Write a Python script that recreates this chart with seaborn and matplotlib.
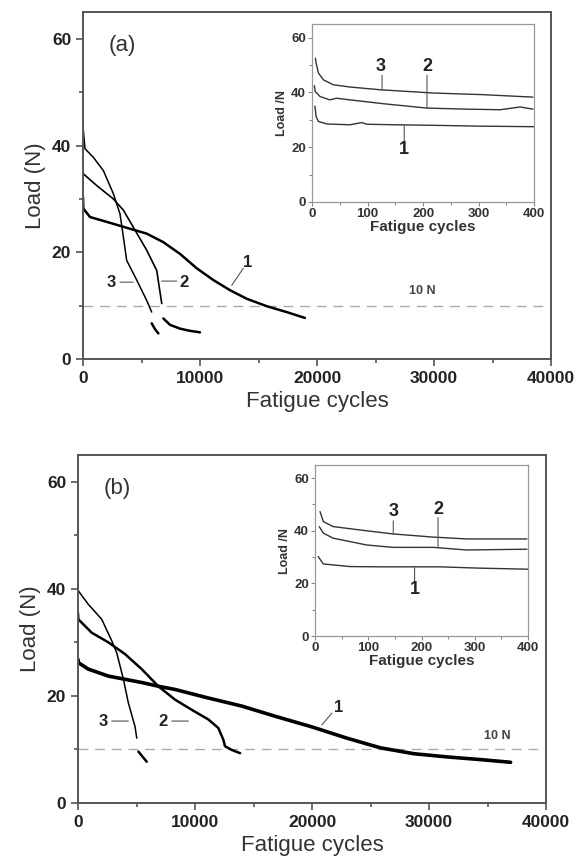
import matplotlib
matplotlib.use("Agg")
import matplotlib.pyplot as plt
import seaborn as sns
from matplotlib.ticker import MultipleLocator

sns.set_style("ticks")
plt.rcParams["font.family"] = ["Liberation Sans", "DejaVu Sans"]

# ---- panel (a), main curves (cycles, load in N) ----
a1_x = [0, 30, 600, 2025, 4020, 5440, 6860, 8290, 9720, 11140, 12560, 13990,
        15700, 17400, 18970]
a1_y = [30.3, 28.2, 26.6, 25.7, 24.4, 23.5, 21.9, 19.7, 17.0, 14.8, 12.9, 11.3,
        9.9, 8.8, 7.7]
a2_x = [0, 30, 1170, 2590, 3450, 4300, 5440, 6300, 6730]
a2_y = [35.5, 34.7, 32.5, 30.0, 27.9, 24.7, 20.4, 16.6, 10.4]
a2b_x = [6870, 7440, 8290, 9100, 10000]
a2b_y = [7.6, 6.4, 5.7, 5.3, 5.0]
a3_x = [0, 30, 170, 880, 1740, 2590, 3160, 3450, 3730, 4590, 5440, 5870]
a3_y = [44.0, 42.8, 39.4, 37.8, 35.3, 31.0, 27.2, 22.9, 18.5, 14.8, 11.0, 8.8]
a3b_x = [5870, 6150, 6440]
a3b_y = [6.7, 5.6, 4.8]

# ---- panel (a), inset (first 400 cycles) ----
ia1_x = [5, 7.2, 11.4, 26.5, 68, 89.5, 98.5, 150, 220, 300, 400]
ia1_y = [35.0, 31.2, 29.4, 28.5, 28.2, 29.0, 28.4, 28.2, 28.0, 27.7, 27.5]
ia2_x = [4, 5.4, 14.4, 32, 44, 68, 128, 207, 279, 339, 375, 398]
ia2_y = [42.5, 40.4, 38.5, 37.3, 37.9, 37.3, 35.9, 34.3, 33.9, 33.7, 34.7, 33.9]
ia3_x = [6, 7.2, 11.4, 20.4, 38.4, 68, 122, 218, 308, 398]
ia3_y = [52.5, 50.7, 47.1, 44.6, 42.8, 42.0, 41.0, 39.8, 39.2, 38.3]

# ---- panel (b), main curves ----
b1_x = [0, 30, 880, 2590, 5440, 6860, 8290, 11140, 13990, 16840, 20000,
        22990, 25840, 28700, 31550, 34400, 36970]
b1_y = [26.8, 26.2, 25.0, 23.7, 22.5, 21.8, 21.2, 19.6, 18.1, 16.2, 14.2,
        12.1, 10.3, 9.2, 8.6, 8.1, 7.6]
b2_x = [0, 30, 1170, 2590, 4020, 5440, 6860, 8290, 9720, 11140, 11990,
        12420, 12560, 13140, 13850]
b2_y = [35.5, 34.3, 31.8, 30.0, 27.8, 25.0, 21.8, 19.3, 17.4, 15.6, 14.0,
        11.8, 10.6, 9.9, 9.3]
b3_x = [0, 30, 880, 2025, 2880, 3300, 3880, 4300, 4870, 5020]
b3_y = [40.5, 39.6, 37.1, 34.3, 30.3, 28.1, 23.1, 18.7, 14.3, 12.1]
b3b_x = [5160, 5870]
b3b_y = [9.6, 7.7]

# ---- panel (b), inset ----
ib1_x = [6, 15.6, 66, 122, 234, 309, 400]
ib1_y = [30.2, 27.4, 26.4, 26.3, 26.3, 25.8, 25.4]
ib2_x = [8, 15.6, 34, 97, 147, 222, 285, 398]
ib2_y = [41.6, 39.1, 37.2, 34.6, 33.7, 33.7, 32.7, 33.0]
ib3_x = [9.4, 15.6, 34, 97, 147, 222, 285, 398]
ib3_y = [47.3, 43.5, 41.6, 40.0, 38.8, 37.6, 36.9, 36.9]

limit_load = 10  # the 10 N line

fig = plt.figure(figsize=(5.78, 8.61), dpi=100)
ax_a = fig.add_axes([0.1436, 0.583, 0.8097, 0.403])
ax_b = fig.add_axes([0.135, 0.0674, 0.8097, 0.4042])
in_a = fig.add_axes([0.540, 0.7654, 0.384, 0.2067])
in_b = fig.add_axes([0.545, 0.2613, 0.3685, 0.1986])

spine_col = "#555555"


def line(ax, x, y, lw, color="black"):
    sns.lineplot(x=x, y=y, ax=ax, color=color, lw=lw, sort=False,
                 estimator=None, legend=False)


def style_main(ax, tag):
    ax.set_xlim(0, 40000)
    ax.set_ylim(0, 65)
    ax.xaxis.set_major_locator(MultipleLocator(10000))
    ax.xaxis.set_minor_locator(MultipleLocator(5000))
    ax.yaxis.set_major_locator(MultipleLocator(20))
    ax.yaxis.set_minor_locator(MultipleLocator(10))
    ax.tick_params(which="both", direction="out", color=spine_col, width=1.2)
    ax.tick_params(which="major", length=5, labelsize=12.5)
    ax.tick_params(which="minor", length=3)
    for lab in ax.get_xticklabels() + ax.get_yticklabels():
        lab.set_fontweight("bold")
        lab.set_color("#222222")
    for s in ax.spines.values():
        s.set_visible(True)
        s.set_color(spine_col)
        s.set_linewidth(1.4)
    ax.set_xlabel("Fatigue cycles", fontsize=16, color="#333333")
    ax.set_ylabel("Load (N)", fontsize=16, color="#333333")
    ax.axhline(limit_load, color="#aaaaaa", lw=1.0, ls=(0, (7, 5)), zorder=0)
    ax.text(0.055, 0.905, tag, transform=ax.transAxes, fontsize=16,
            color="#333333", ha="left", va="center")


def style_inset(ax):
    ax.set_xlim(0, 400)
    ax.set_ylim(0, 65)
    ax.xaxis.set_major_locator(MultipleLocator(100))
    ax.xaxis.set_minor_locator(MultipleLocator(50))
    ax.yaxis.set_major_locator(MultipleLocator(20))
    ax.yaxis.set_minor_locator(MultipleLocator(10))
    ax.tick_params(which="both", direction="out", color="#888888", width=0.8)
    ax.tick_params(which="major", length=3, labelsize=9.5, pad=1.5)
    ax.tick_params(which="minor", length=2)
    for lab in ax.get_xticklabels() + ax.get_yticklabels():
        lab.set_fontweight("bold")
        lab.set_color("#333333")
    for s in ax.spines.values():
        s.set_visible(True)
        s.set_color("#999999")
        s.set_linewidth(0.9)
    ax.set_xlabel("Fatigue cycles", fontsize=11, fontweight="bold",
                  color="#333333", labelpad=0)
    ax.set_ylabel("Load /N", fontsize=9, fontweight="bold", color="#333333",
                  labelpad=2)


def tag(ax, txt, text_xy, p0, p1, size=12):
    # leader line from p0 to p1, label at text_xy
    ax.annotate("", xy=p0, xytext=p1,
                arrowprops=dict(arrowstyle="-", color="#555555", lw=0.8,
                                shrinkA=0, shrinkB=0))
    ax.text(text_xy[0], text_xy[1], txt, fontsize=size, fontweight="bold",
            color="#222222", ha="center", va="center")


# panel (a)
line(ax_a, a1_x, a1_y, 1.8)
line(ax_a, a2_x, a2_y, 1.2)
line(ax_a, a2b_x, a2b_y, 1.8)
line(ax_a, a3_x, a3_y, 1.1)
line(ax_a, a3b_x, a3b_y, 1.8)
style_main(ax_a, "(a)")
ax_a.text(29000, 11.7, "10 N", fontsize=9, fontweight="bold",
          color="#444444", ha="center", va="bottom")
tag(ax_a, "1", (14100, 18.0), (12710, 13.8), (13700, 17.0))
tag(ax_a, "2", (8600, 14.3), (6730, 14.6), (8010, 14.6))
tag(ax_a, "3", (2450, 14.3), (3160, 14.4), (4300, 14.4))

line(in_a, ia1_x, ia1_y, 1.0, "#333333")
line(in_a, ia2_x, ia2_y, 1.0, "#333333")
line(in_a, ia3_x, ia3_y, 1.0, "#333333")
style_inset(in_a)
tag(in_a, "3", (123, 49.5), (126, 41.0), (126, 46.3), 13)
tag(in_a, "2", (207, 49.5), (207, 34.3), (207, 46.3), 13)
tag(in_a, "1", (166, 19.0), (166, 28.0), (166, 22.3), 13)

# panel (b)
line(ax_b, b1_x, b1_y, 2.6)
line(ax_b, b2_x, b2_y, 1.8)
line(ax_b, b3_x, b3_y, 1.1)
line(ax_b, b3b_x, b3b_y, 1.8)
style_main(ax_b, "(b)")
ax_b.text(35800, 11.3, "10 N", fontsize=9, fontweight="bold",
          color="#444444", ha="center", va="bottom")
tag(ax_b, "1", (22300, 17.9), (20850, 14.6), (21700, 16.8))
tag(ax_b, "2", (7290, 15.3), (8010, 15.3), (9430, 15.3))
tag(ax_b, "3", (2170, 15.3), (2880, 15.3), (4300, 15.3))

line(in_b, ib1_x, ib1_y, 1.0, "#333333")
line(in_b, ib2_x, ib2_y, 1.0, "#333333")
line(in_b, ib3_x, ib3_y, 1.0, "#333333")
style_inset(in_b)
tag(in_b, "3", (147, 47.5), (147, 38.6), (147, 43.8), 13)
tag(in_b, "2", (231, 48.0), (231, 33.8), (231, 45.0), 13)
tag(in_b, "1", (187, 17.5), (187, 26.0), (187, 20.8), 13)

fig.savefig("out.png", dpi=100)
